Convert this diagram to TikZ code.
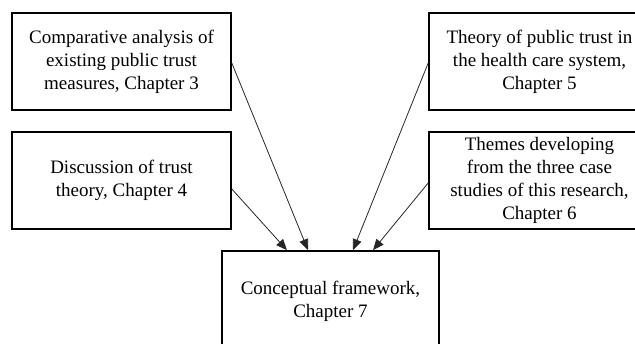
\documentclass[tikz,border=0pt]{standalone}
\usepackage{fontspec}
\setmainfont{Liberation Serif}
\usetikzlibrary{arrows.meta}
\begin{document}
\begin{tikzpicture}[x=1pt,y=-1pt,
  box/.style={draw=black, line width=1.6pt, fill=white, align=center,
    inner sep=0pt, font=\fontsize{19}{23}\selectfont},
  feed/.style={draw=black!85, line width=0.8pt,
    -{Triangle[length=11pt,width=9pt]}}]
\useasboundingbox (0,0) rectangle (635,344);
\clip (0,0) rectangle (635,344);
% source boxes
\node[box, minimum width=219pt, minimum height=97pt] (b1) at (121.5,61.5)
  {Comparative analysis of\\existing public trust\\measures, Chapter 3};
\node[box, minimum width=219pt, minimum height=97pt] (b2) at (121.5,180.5)
  {Discussion of trust\\theory, Chapter 4};
\node[box, minimum width=221pt, minimum height=97pt] (b3) at (539.5,61.5)
  {Theory of public trust in\\the health care system,\\Chapter 5};
\node[box, minimum width=221pt, minimum height=97pt] (b4) at (539.5,180.5)
  {Themes developing\\from the three case\\studies of this research,\\Chapter 6};
% target box
\node[box, minimum width=217pt, minimum height=100pt] (b5) at (330.5,301)
  {Conceptual framework,\\Chapter 7};
% connectors into the conceptual framework
\draw[feed] ([yshift=-1.5pt]b1.east) -- ([xshift=-22.5pt]b5.north);
\draw[feed] ([yshift=-8.5pt]b2.east) -- ([xshift=-43.5pt]b5.north);
\draw[feed] ([yshift=-1.5pt]b3.west) -- ([xshift=22.5pt]b5.north);
\draw[feed] ([yshift=-2.5pt]b4.west) -- ([xshift=42.5pt]b5.north);
\end{tikzpicture}
\end{document}
